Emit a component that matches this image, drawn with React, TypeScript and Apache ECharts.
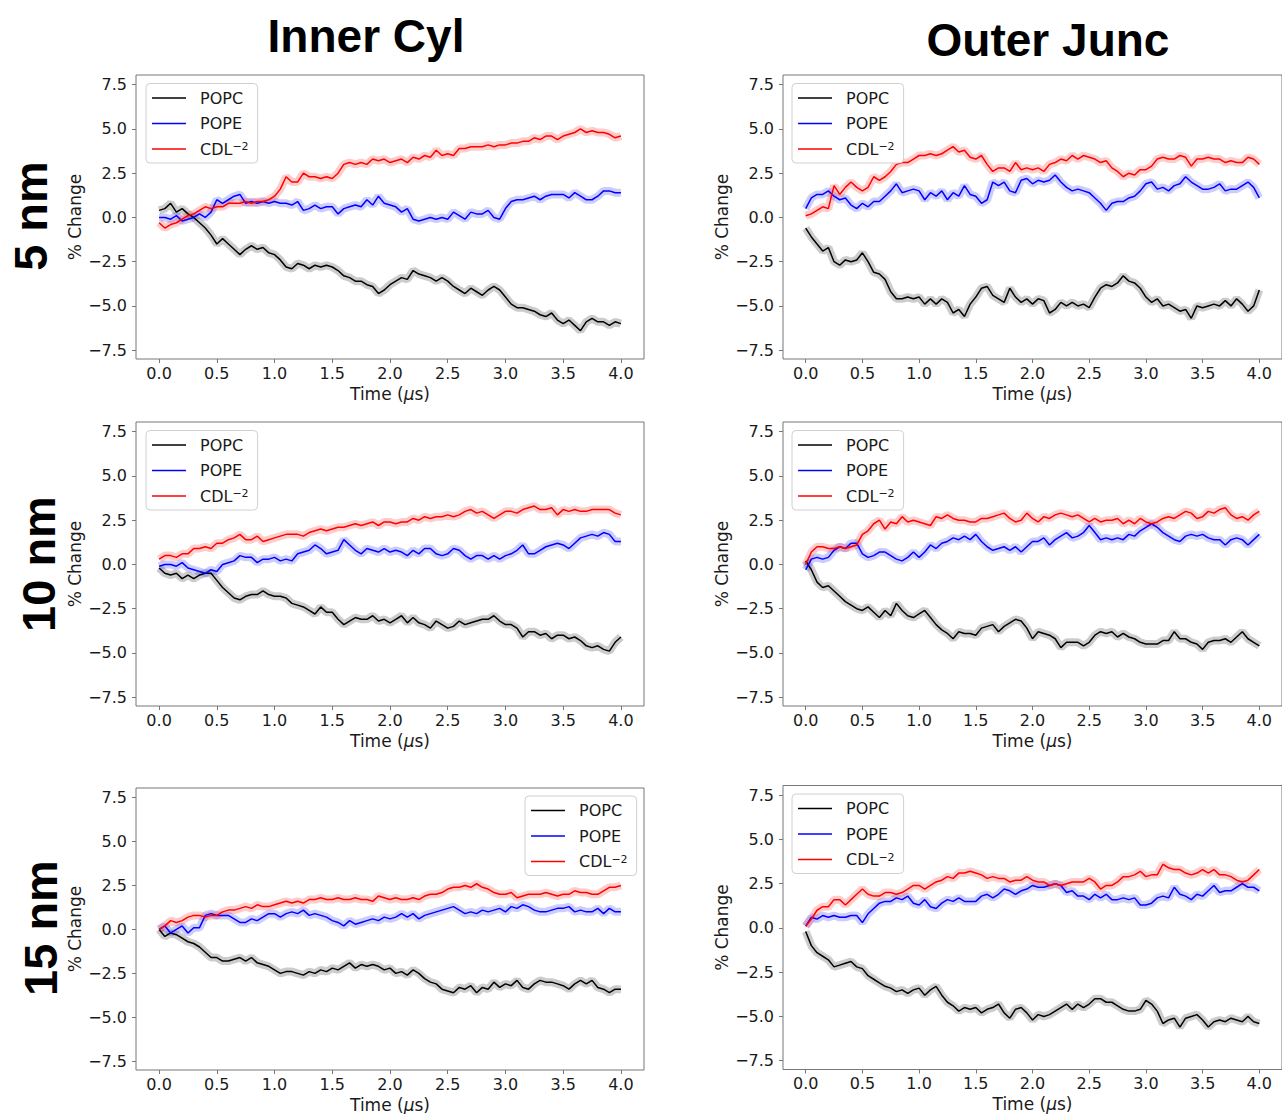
import React, { useEffect, useRef } from "react";
import * as echarts from "echarts";

// ---- data (time in µs, values in % change) ----
const TIME = [
  0, 0.05, 0.1, 0.15, 0.2, 0.25, 0.3, 0.35, 0.4, 0.45,
  0.5, 0.55, 0.6, 0.65, 0.7, 0.75, 0.8, 0.85, 0.9, 0.95,
  1.0, 1.05, 1.1, 1.15, 1.2, 1.25, 1.3, 1.35, 1.4, 1.45,
  1.5, 1.55, 1.6, 1.65, 1.7, 1.75, 1.8, 1.85, 1.9, 1.95,
  2.0, 2.05, 2.1, 2.15, 2.2, 2.25, 2.3, 2.35, 2.4, 2.45,
  2.5, 2.55, 2.6, 2.65, 2.7, 2.75, 2.8, 2.85, 2.9, 2.95,
  3.0, 3.05, 3.1, 3.15, 3.2, 3.25, 3.3, 3.35, 3.4, 3.45,
  3.5, 3.55, 3.6, 3.65, 3.7, 3.75, 3.8, 3.85, 3.9, 3.95,
  4.0,
];
const X_TICKS = [0, 0.5, 1, 1.5, 2, 2.5, 3, 3.5, 4];
const Y_TICKS = [-7.5, -5, -2.5, 0, 2.5, 5, 7.5];
const LIPIDS = ["POPC", "POPE", "CDL⁻²"];
const COLUMN_TITLES = ["Inner Cyl", "Outer Junc"];
const ROW_TITLES = ["5 nm", "10 nm", "15 nm"];

// Inner Cyl, 5 nm
const IC5_POPC = [
  0.4, 0.5, 0.8, 0.3, 0.5, 0.2, 0.0, -0.3, -0.6, -1.0,
  -1.5, -1.2, -1.5, -1.8, -2.1, -1.8, -1.6, -1.8, -1.7, -2.0,
  -2.1, -2.4, -2.8, -2.9, -2.6, -2.7, -2.9, -2.7, -2.8, -2.7,
  -2.8, -3.0, -3.3, -3.4, -3.6, -3.6, -3.8, -3.9, -4.3, -4.1,
  -3.8, -3.6, -3.4, -3.5, -3.0, -3.2, -3.3, -3.4, -3.6, -3.4,
  -3.6, -3.9, -4.1, -4.3, -4.0, -4.2, -4.4, -4.1, -3.9, -4.1,
  -4.5, -4.9, -5.1, -5.1, -5.2, -5.3, -5.5, -5.6, -5.4, -5.8,
  -6.0, -5.8, -6.1, -6.4, -5.9, -5.7, -5.9, -5.9, -6.1, -5.9,
  -6.0,
];
const IC5_POPE = [
  0.0, 0.0, -0.1, 0.1, -0.2, -0.1, 0.0, 0.2, 0.0, 0.3,
  1.0, 0.8, 1.0, 1.2, 1.3, 0.8, 0.9, 0.8, 0.9, 0.8,
  0.9, 0.8, 0.8, 0.7, 0.9, 0.4, 0.5, 0.7, 0.5, 0.6,
  0.6, 0.2, 0.5, 0.6, 0.7, 0.6, 1.0, 0.7, 1.2, 0.8,
  0.7, 0.6, 0.3, 0.5, -0.1, -0.2, -0.1, 0.0, -0.1, 0.0,
  -0.1, 0.3, 0.1, -0.1, 0.3, 0.2, 0.2, 0.4, 0.0, -0.1,
  0.5, 0.9, 1.0, 1.0, 1.1, 1.2, 1.0, 1.2, 1.3, 1.3,
  1.3, 1.1, 1.4, 1.2, 1.0, 1.0, 1.2, 1.5, 1.5, 1.4,
  1.4,
];
const IC5_CDL = [
  -0.3, -0.6, -0.4, -0.3, -0.1, 0.1, 0.2, 0.4, 0.6, 0.5,
  0.6, 0.6, 0.8, 0.8, 0.8, 0.9, 0.8, 0.9, 0.9, 1.0,
  1.2, 1.6, 2.3, 2.0, 2.0, 2.5, 2.3, 2.3, 2.2, 2.3,
  2.2, 2.5, 3.0, 3.1, 3.0, 3.1, 3.0, 3.3, 3.2, 3.3,
  3.1, 3.2, 3.3, 3.1, 3.4, 3.3, 3.5, 3.4, 3.8, 3.5,
  3.6, 3.5, 3.9, 3.9, 4.0, 4.0, 4.0, 4.1, 4.0, 4.1,
  4.1, 4.2, 4.2, 4.3, 4.3, 4.5, 4.4, 4.6, 4.6, 4.4,
  4.6, 4.7, 4.8, 5.0, 4.8, 4.9, 4.8, 4.8, 4.7, 4.5,
  4.6,
];

// Outer Junc, 5 nm
const OJ5_POPC = [
  -0.6, -1.1, -1.5, -1.9, -1.7, -2.5, -2.7, -2.4, -2.5, -2.4,
  -2.0, -2.5, -3.1, -3.2, -3.5, -4.2, -4.6, -4.6, -4.5, -4.6,
  -4.5, -4.9, -4.6, -4.9, -4.6, -4.8, -5.4, -5.2, -5.6, -4.9,
  -4.5, -4.0, -3.9, -4.4, -4.6, -4.8, -4.0, -4.5, -4.8, -4.6,
  -4.9, -4.6, -4.7, -5.4, -5.2, -4.8, -5.0, -4.8, -5.0, -4.9,
  -5.1, -4.5, -4.0, -3.8, -3.9, -3.7, -3.3, -3.6, -3.7, -4.0,
  -4.5, -4.8, -4.6, -5.0, -4.9, -5.1, -5.3, -5.2, -5.7, -5.0,
  -5.1, -5.0, -4.9, -5.0, -4.7, -5.0, -4.6, -4.9, -5.3, -5.0,
  -4.1,
];
const OJ5_POPE = [
  0.5, 1.1, 1.3, 1.3, 1.5, 1.2, 1.0, 1.1, 0.7, 0.5,
  0.8, 0.6, 0.9, 0.9, 1.2, 1.5, 1.9, 1.4, 1.5, 1.6,
  1.5, 1.0, 1.4, 1.2, 1.5, 1.0, 1.4, 1.2, 1.8, 1.3,
  1.2, 0.8, 1.0, 2.0, 1.8, 2.0, 1.5, 1.4, 2.1, 2.2,
  1.9, 2.1, 2.0, 2.1, 2.4, 2.0, 1.7, 1.5, 1.6, 1.5,
  1.4, 1.1, 0.8, 0.4, 0.8, 0.9, 0.9, 1.1, 1.2, 1.5,
  1.9, 2.0, 1.6, 1.7, 1.5, 1.8, 1.9, 2.3, 2.0, 1.8,
  1.6, 1.6, 1.7, 1.9, 1.5, 1.6, 1.6, 1.8, 2.0, 1.7,
  1.1,
];
const OJ5_CDL = [
  0.1, 0.2, 0.4, 0.6, 0.5, 1.8, 1.3, 1.7, 2.0, 1.7,
  1.5, 1.7, 2.3, 2.1, 2.3, 2.6, 3.0, 3.1, 3.1, 3.3,
  3.5, 3.5, 3.6, 3.5, 3.6, 3.8, 4.0, 3.7, 3.8, 3.4,
  3.3, 3.5, 3.0, 2.6, 2.8, 2.8, 2.6, 3.1, 2.7, 2.8,
  2.7, 2.8, 2.6, 3.0, 3.1, 3.3, 3.2, 3.5, 3.3, 3.5,
  3.4, 3.3, 3.1, 3.2, 2.8, 2.6, 2.3, 2.5, 2.4, 2.7,
  2.7, 2.9, 3.3, 3.4, 3.3, 3.3, 3.5, 3.4, 2.9, 3.3,
  3.3, 3.4, 3.3, 3.3, 3.1, 3.2, 3.1, 3.1, 3.4, 3.3,
  3.0,
];

// Inner Cyl, 10 nm
const IC10_POPC = [
  -0.2, -0.5, -0.6, -0.5, -0.8, -0.6, -0.8, -0.6, -0.5, -0.5,
  -0.9, -1.3, -1.6, -1.9, -2.0, -1.8, -1.7, -1.7, -1.5, -1.7,
  -1.8, -1.8, -1.9, -2.2, -2.3, -2.4, -2.6, -2.8, -2.4, -2.7,
  -2.7, -3.1, -3.4, -3.2, -3.0, -3.1, -3.1, -2.9, -3.2, -3.1,
  -3.3, -3.1, -2.9, -3.3, -3.0, -3.3, -3.4, -3.6, -3.2, -3.4,
  -3.6, -3.5, -3.2, -3.4, -3.3, -3.2, -3.1, -3.1, -2.9, -3.2,
  -3.4, -3.4, -3.6, -4.1, -3.8, -3.8, -4.0, -3.9, -4.2, -4.0,
  -4.0, -4.2, -4.1, -4.3, -4.6, -4.7, -4.6, -4.8, -4.9, -4.4,
  -4.1,
];
const IC10_POPE = [
  -0.1, 0.0, 0.0, -0.1, 0.1, -0.2, -0.3, -0.4, -0.5, -0.3,
  -0.4, 0.0, 0.1, 0.2, 0.5, 0.4, 0.4, 0.1, 0.3, 0.3,
  0.4, 0.2, 0.3, 0.2, 0.6, 0.7, 0.8, 1.1, 0.9, 0.6,
  0.7, 0.8, 1.4, 1.1, 0.8, 0.6, 0.9, 0.8, 0.7, 0.9,
  0.7, 0.8, 0.7, 0.5, 0.8, 0.6, 0.9, 0.9, 0.6, 0.5,
  0.6, 0.9, 0.8, 0.5, 0.3, 0.5, 0.5, 0.3, 0.5, 0.3,
  0.5, 0.6, 0.8, 1.1, 0.6, 0.6, 0.8, 1.0, 1.1, 1.2,
  1.1, 0.9, 1.2, 1.5, 1.6, 1.7, 1.6, 1.8, 1.7, 1.3,
  1.3,
];
const IC10_CDL = [
  0.3, 0.5, 0.5, 0.4, 0.6, 0.6, 0.9, 0.9, 1.0, 0.9,
  1.2, 1.2, 1.4, 1.5, 1.7, 1.4, 1.4, 1.6, 1.3, 1.4,
  1.5, 1.6, 1.7, 1.7, 1.7, 1.6, 1.8, 1.9, 2.0, 1.9,
  2.0, 2.1, 2.1, 2.2, 2.3, 2.2, 2.3, 2.4, 2.2, 2.4,
  2.4, 2.3, 2.4, 2.4, 2.6, 2.5, 2.7, 2.6, 2.7, 2.7,
  2.8, 2.7, 2.8, 3.0, 3.1, 2.9, 3.0, 2.8, 2.6, 2.8,
  3.0, 3.0, 2.9, 3.1, 3.2, 3.3, 3.1, 3.1, 3.2, 2.8,
  3.1, 3.0, 3.1, 3.0, 3.0, 3.1, 3.1, 3.1, 3.1, 2.9,
  2.8,
];

// Outer Junc, 10 nm
const OJ10_POPC = [
  0.2, -0.3, -1.0, -1.3, -1.2, -1.5, -1.8, -2.1, -2.3, -2.5,
  -2.6, -2.4, -2.7, -3.0, -2.6, -2.9, -2.2, -2.6, -2.9, -3.0,
  -2.8, -2.6, -3.0, -3.4, -3.7, -3.9, -4.2, -3.8, -3.9, -3.9,
  -4.0, -3.6, -3.5, -3.4, -3.8, -3.5, -3.3, -3.1, -3.2, -3.6,
  -4.2, -3.8, -3.9, -4.0, -4.2, -4.7, -4.4, -4.4, -4.4, -4.6,
  -4.4, -4.0, -3.8, -3.9, -3.8, -4.1, -3.9, -4.1, -4.2, -4.4,
  -4.5, -4.5, -4.5, -4.3, -4.3, -3.8, -4.2, -4.2, -4.4, -4.5,
  -4.8, -4.4, -4.3, -4.3, -4.2, -4.4, -4.1, -3.8, -4.2, -4.4,
  -4.6,
];
const OJ10_POPE = [
  -0.3, 0.3, 0.4, 0.3, 0.4, 0.8, 1.0, 0.9, 1.2, 1.2,
  0.6, 0.4, 0.5, 0.7, 0.7, 0.5, 0.3, 0.2, 0.4, 0.7,
  0.4, 0.7, 1.1, 0.9, 1.2, 1.3, 1.5, 1.4, 1.6, 1.4,
  1.7, 1.3, 1.0, 0.8, 0.9, 1.0, 0.8, 1.0, 0.7, 1.0,
  1.3, 1.3, 1.5, 1.1, 1.4, 1.6, 1.8, 1.5, 1.6, 1.8,
  2.2, 1.8, 1.4, 1.5, 1.4, 1.5, 1.4, 1.7, 1.6, 1.9,
  2.1, 2.3, 2.1, 1.8, 1.6, 1.4, 1.3, 1.6, 1.7, 1.6,
  1.7, 1.5, 1.4, 1.4, 1.1, 1.4, 1.5, 1.4, 1.1, 1.4,
  1.7,
];
const OJ10_CDL = [
  0.0, 0.7, 1.0, 1.0, 0.9, 0.9, 1.0, 0.9, 1.0, 1.1,
  1.7, 1.9, 2.3, 2.5, 2.0, 2.4, 2.3, 2.7, 2.4, 2.5,
  2.4, 2.3, 2.2, 2.7, 2.6, 2.8, 2.6, 2.5, 2.5, 2.4,
  2.4, 2.6, 2.6, 2.7, 2.8, 2.9, 2.6, 2.4, 2.5, 2.9,
  2.6, 2.4, 2.7, 2.6, 2.8, 2.9, 2.8, 2.7, 2.8, 2.6,
  2.4, 2.6, 2.4, 2.5, 2.5, 2.6, 2.3, 2.5, 2.3, 2.6,
  2.4, 2.3, 2.4, 2.6, 2.7, 2.6, 2.8, 3.0, 2.9, 2.6,
  2.7, 3.0, 2.9, 3.1, 3.2, 2.8, 2.6, 2.7, 2.5, 2.8,
  3.0,
];

// Inner Cyl, 15 nm
const IC15_POPC = [
  0.0, -0.4, -0.2, -0.3, -0.5, -0.7, -0.8, -1.0, -1.3, -1.6,
  -1.6, -1.8, -1.8, -1.7, -1.6, -1.8, -1.6, -1.9, -2.0, -2.1,
  -2.3, -2.5, -2.4, -2.4, -2.5, -2.6, -2.4, -2.5, -2.3, -2.4,
  -2.2, -2.3, -2.1, -1.9, -2.2, -2.0, -2.1, -2.0, -2.1, -2.3,
  -2.2, -2.5, -2.4, -2.6, -2.3, -2.5, -2.8, -3.0, -3.1, -3.4,
  -3.5, -3.6, -3.3, -3.4, -3.2, -3.6, -3.3, -3.4, -3.0, -3.3,
  -3.1, -3.2, -2.9, -3.3, -3.4, -3.1, -2.9, -3.0, -3.0, -3.1,
  -3.2, -3.4, -3.1, -2.9, -3.1, -2.9, -3.3, -3.4, -3.6, -3.4,
  -3.4,
];
const IC15_POPE = [
  0.0, 0.2, -0.2, 0.0, 0.2, -0.2, 0.1, 0.1, 0.8, 0.9,
  0.8, 0.8, 0.8, 0.6, 0.4, 0.4, 0.6, 0.5, 0.7, 0.9,
  0.9, 0.7, 0.9, 1.0, 0.9, 1.1, 0.8, 0.9, 0.8, 0.7,
  0.5, 0.4, 0.2, 0.5, 0.3, 0.4, 0.5, 0.6, 0.5, 0.7,
  0.6, 0.7, 0.9, 0.7, 0.9, 0.6, 0.8, 0.9, 1.0, 1.1,
  1.2, 1.3, 1.1, 0.9, 1.0, 0.9, 1.1, 1.0, 1.1, 1.2,
  1.0, 1.3, 1.2, 1.4, 1.3, 1.1, 1.0, 1.0, 1.1, 1.2,
  1.2, 1.3, 1.0, 1.1, 1.0, 1.0, 1.2, 0.9, 1.2, 1.0,
  1.0,
];
const IC15_CDL = [
  0.0, 0.2, 0.5, 0.4, 0.5, 0.7, 0.8, 0.8, 0.7, 0.8,
  0.8, 1.0, 1.1, 1.1, 1.2, 1.3, 1.2, 1.4, 1.3, 1.3,
  1.4, 1.5, 1.6, 1.5, 1.6, 1.5, 1.7, 1.7, 1.8, 1.7,
  1.7, 1.8, 1.7, 1.7, 1.8, 1.7, 1.7, 1.6, 1.9, 1.8,
  1.7, 1.8, 1.7, 1.7, 1.8, 1.7, 1.9, 2.0, 2.0, 2.1,
  2.3, 2.4, 2.4, 2.5, 2.4, 2.6, 2.4, 2.3, 2.1, 2.0,
  2.0, 2.1, 1.8, 1.9, 2.0, 2.0, 2.0, 2.1, 2.0, 1.9,
  2.0, 2.0, 2.2, 2.1, 2.1, 2.0, 2.0, 2.2, 2.4, 2.4,
  2.5,
];

// Outer Junc, 15 nm
const OJ15_POPC = [
  -0.2, -1.0, -1.4, -1.6, -1.8, -2.2, -2.1, -2.0, -1.9, -2.2,
  -2.3, -2.7, -2.9, -3.1, -3.3, -3.4, -3.6, -3.5, -3.7, -3.5,
  -3.4, -3.8, -3.5, -3.3, -3.8, -4.2, -4.4, -4.7, -4.5, -4.6,
  -4.5, -4.8, -4.6, -4.5, -4.3, -4.8, -5.1, -4.6, -4.5, -4.8,
  -5.2, -4.9, -5.0, -4.9, -4.7, -4.5, -4.3, -4.6, -4.3, -4.5,
  -4.3, -4.0, -4.0, -4.2, -4.2, -4.4, -4.6, -4.7, -4.7, -4.6,
  -4.1, -4.3, -4.7, -5.4, -5.2, -5.1, -5.6, -5.1, -5.0, -4.9,
  -5.2, -5.6, -5.3, -5.2, -5.3, -5.1, -5.2, -5.3, -5.0, -5.3,
  -5.4,
];
const OJ15_POPE = [
  0.1, 0.6, 0.5, 0.7, 0.6, 0.7, 0.6, 0.6, 0.7, 0.7,
  0.3, 0.8, 1.1, 1.4, 1.5, 1.5, 1.7, 1.6, 1.8, 1.4,
  1.3, 1.6, 1.2, 1.1, 1.4, 1.6, 1.5, 1.7, 1.5, 1.5,
  1.5, 1.8, 1.9, 1.7, 1.9, 2.2, 2.1, 1.9, 2.1, 2.2,
  2.4, 2.3, 2.3, 2.4, 2.5, 2.4, 2.0, 2.1, 1.8, 1.8,
  1.6, 1.9, 1.7, 1.9, 1.6, 1.6, 1.7, 1.6, 1.7, 1.3,
  1.3, 1.4, 1.7, 1.8, 1.7, 2.3, 1.9, 1.8, 1.6, 1.9,
  1.8, 2.1, 2.4, 2.0, 2.1, 2.1, 2.3, 2.5, 2.3, 2.3,
  2.1,
];
const OJ15_CDL = [
  0.1, 0.5, 1.0, 1.2, 1.2, 1.6, 1.6, 1.3, 1.6, 1.9,
  2.2, 1.9, 1.8, 1.8, 2.0, 2.0, 1.9, 2.0, 2.2, 2.4,
  2.4, 2.2, 2.4, 2.6, 2.7, 2.9, 2.8, 3.1, 3.1, 3.2,
  3.1, 3.0, 2.8, 2.9, 2.8, 2.8, 2.6, 2.7, 2.7, 2.9,
  2.7, 2.6, 2.6, 2.4, 2.5, 2.4, 2.5, 2.6, 2.6, 2.6,
  2.8, 2.6, 2.2, 2.4, 2.4, 2.6, 2.9, 2.9, 3.0, 3.2,
  2.9, 3.0, 3.0, 3.6, 3.4, 3.3, 3.3, 3.1, 3.0, 3.1,
  3.3, 3.1, 3.3, 3.0, 3.0, 2.9, 2.7, 2.6, 2.7, 3.0,
  3.3,
];

// ---- layout / style ----
const COLORS = ["#000000", "#0000ff", "#ff0000"];
const FONT = "DejaVu Sans";
const TITLE_FONT = "Liberation Sans";

const PANELS = [
  { series: [IC5_POPC, IC5_POPE, IC5_CDL], left: 136, top: 75, legendLeft: 146, legendTop: 83.5 },
  { series: [OJ5_POPC, OJ5_POPE, OJ5_CDL], left: 783, top: 75, legendLeft: 792, legendTop: 83.5 },
  { series: [IC10_POPC, IC10_POPE, IC10_CDL], left: 136, top: 422, legendLeft: 146, legendTop: 430.5 },
  { series: [OJ10_POPC, OJ10_POPE, OJ10_CDL], left: 783, top: 422, legendLeft: 792, legendTop: 430.5 },
  { series: [IC15_POPC, IC15_POPE, IC15_CDL], left: 136, top: 788, legendLeft: 525, legendTop: 796 },
  { series: [OJ15_POPC, OJ15_POPE, OJ15_CDL], left: 783, top: 785.5, legendLeft: 792, legendTop: 794 },
];
const GRID_W = 508;
const GRID_H = 284;

const fmt = (v: number) => (v < 0 ? "\u2212" : "") + Math.abs(v).toFixed(1);

function buildOption() {
  const grid: any[] = [];
  const xAxis: any[] = [];
  const yAxis: any[] = [];
  const legend: any[] = [];
  const faint: any[] = [];
  const main: any[] = [];

  PANELS.forEach((p, gi) => {
    grid.push({
      left: p.left,
      top: p.top,
      width: GRID_W,
      height: GRID_H,
      show: true,
      borderColor: "#777",
      borderWidth: 1,
      backgroundColor: "transparent",
    });
    xAxis.push({
      type: "value",
      gridIndex: gi,
      min: -0.2,
      max: 4.2,
      axisLine: { show: false, onZero: false },
      axisTick: { show: true, length: 4, lineStyle: { color: "#777" }, customValues: X_TICKS },
      axisLabel: { customValues: X_TICKS, formatter: fmt, fontSize: 16, color: "#1a1a1a", fontFamily: FONT, margin: 6 },
      splitLine: { show: false },
      name: "Time ({i|μ}s)",
      nameLocation: "middle",
      nameGap: 26,
      nameTextStyle: {
        fontSize: 17,
        color: "#1a1a1a",
        fontFamily: FONT,
        rich: { i: { fontSize: 17, color: "#1a1a1a", fontFamily: FONT, fontStyle: "italic" } },
      },
    });
    yAxis.push({
      type: "value",
      gridIndex: gi,
      min: -8,
      max: 8.05,
      axisLine: { show: false, onZero: false },
      axisTick: { show: true, length: 4, lineStyle: { color: "#777" }, customValues: Y_TICKS },
      axisLabel: { customValues: Y_TICKS, formatter: fmt, fontSize: 16, color: "#1a1a1a", fontFamily: FONT, margin: 9 },
      splitLine: { show: false },
      name: "% Change",
      nameLocation: "middle",
      nameGap: 53,
      nameTextStyle: { fontSize: 17, color: "#1a1a1a", fontFamily: FONT },
    });
    legend.push({
      data: LIPIDS,
      left: p.legendLeft,
      top: p.legendTop,
      orient: "vertical",
      icon: "rect",
      itemWidth: 34,
      itemHeight: 1.5,
      itemGap: 9.5,
      padding: [6.5, 9, 6, 6],
      backgroundColor: "rgba(255,255,255,0.85)",
      borderColor: "#d0d0d0",
      borderWidth: 1,
      borderRadius: 4,
      selectedMode: false,
      formatter: (name: string) =>
        name === "CDL⁻²" ? "{g| }{t|CDL}{s|\u22122}" : "{g| }{t|" + name + "}",
      textStyle: {
        fontSize: 16,
        color: "#1a1a1a",
        fontFamily: FONT,
        rich: {
          g: { width: 9 },
          t: { fontSize: 16, color: "#1a1a1a", fontFamily: FONT },
          s: { fontSize: 11, color: "#1a1a1a", fontFamily: FONT, verticalAlign: "top", lineHeight: 3 },
        },
      },
    });
    p.series.forEach((vals, li) => {
      const data = TIME.map((t, i) => [t, vals[i]]);
      faint.push({
        type: "line",
        name: LIPIDS[li] + " raw",
        xAxisIndex: gi,
        yAxisIndex: gi,
        data,
        symbol: "none",
        silent: true,
        z: 1,
        lineStyle: { color: COLORS[li], width: 8, opacity: 0.2 },
      });
      main.push({
        type: "line",
        name: LIPIDS[li],
        xAxisIndex: gi,
        yAxisIndex: gi,
        data,
        symbol: "none",
        showSymbol: false,
        z: 3,
        itemStyle: { color: COLORS[li] },
        lineStyle: { color: COLORS[li], width: 1.5 },
      });
    });
  });

  const graphic: any[] = [
    {
      type: "text",
      x: 366,
      y: 36,
      style: {
        text: COLUMN_TITLES[0],
        font: `bold 46px "${TITLE_FONT}"`,
        fill: "#000",
        textAlign: "center",
        textVerticalAlign: "middle",
      },
    },
    {
      type: "text",
      x: 1048,
      y: 39.5,
      style: {
        text: COLUMN_TITLES[1],
        font: `bold 46px "${TITLE_FONT}"`,
        fill: "#000",
        textAlign: "center",
        textVerticalAlign: "middle",
      },
    },
  ];
  const rowPos = [
    [30, 216],
    [38, 564],
    [40, 928],
  ];
  ROW_TITLES.forEach((t, i) => {
    graphic.push({
      type: "text",
      x: rowPos[i][0],
      y: rowPos[i][1],
      rotation: Math.PI / 2,
      style: {
        text: t,
        font: `bold 47px "${TITLE_FONT}"`,
        fill: "#000",
        textAlign: "center",
        textVerticalAlign: "middle",
      },
    });
  });

  return {
    animation: false,
    backgroundColor: "#ffffff",
    grid,
    xAxis,
    yAxis,
    legend,
    series: [...faint, ...main],
    graphic,
  };
}

export default function App() {
  const ref = useRef<HTMLDivElement>(null);
  useEffect(() => {
    if (!ref.current) return;
    const chart = echarts.init(ref.current, undefined, { renderer: "svg" });
    chart.setOption(buildOption() as any);
    return () => chart.dispose();
  }, []);
  return (
    <div
      ref={ref}
      style={{ position: "absolute", left: 0, top: 0, width: 1282, height: 1114, background: "#fff" }}
    />
  );
}
